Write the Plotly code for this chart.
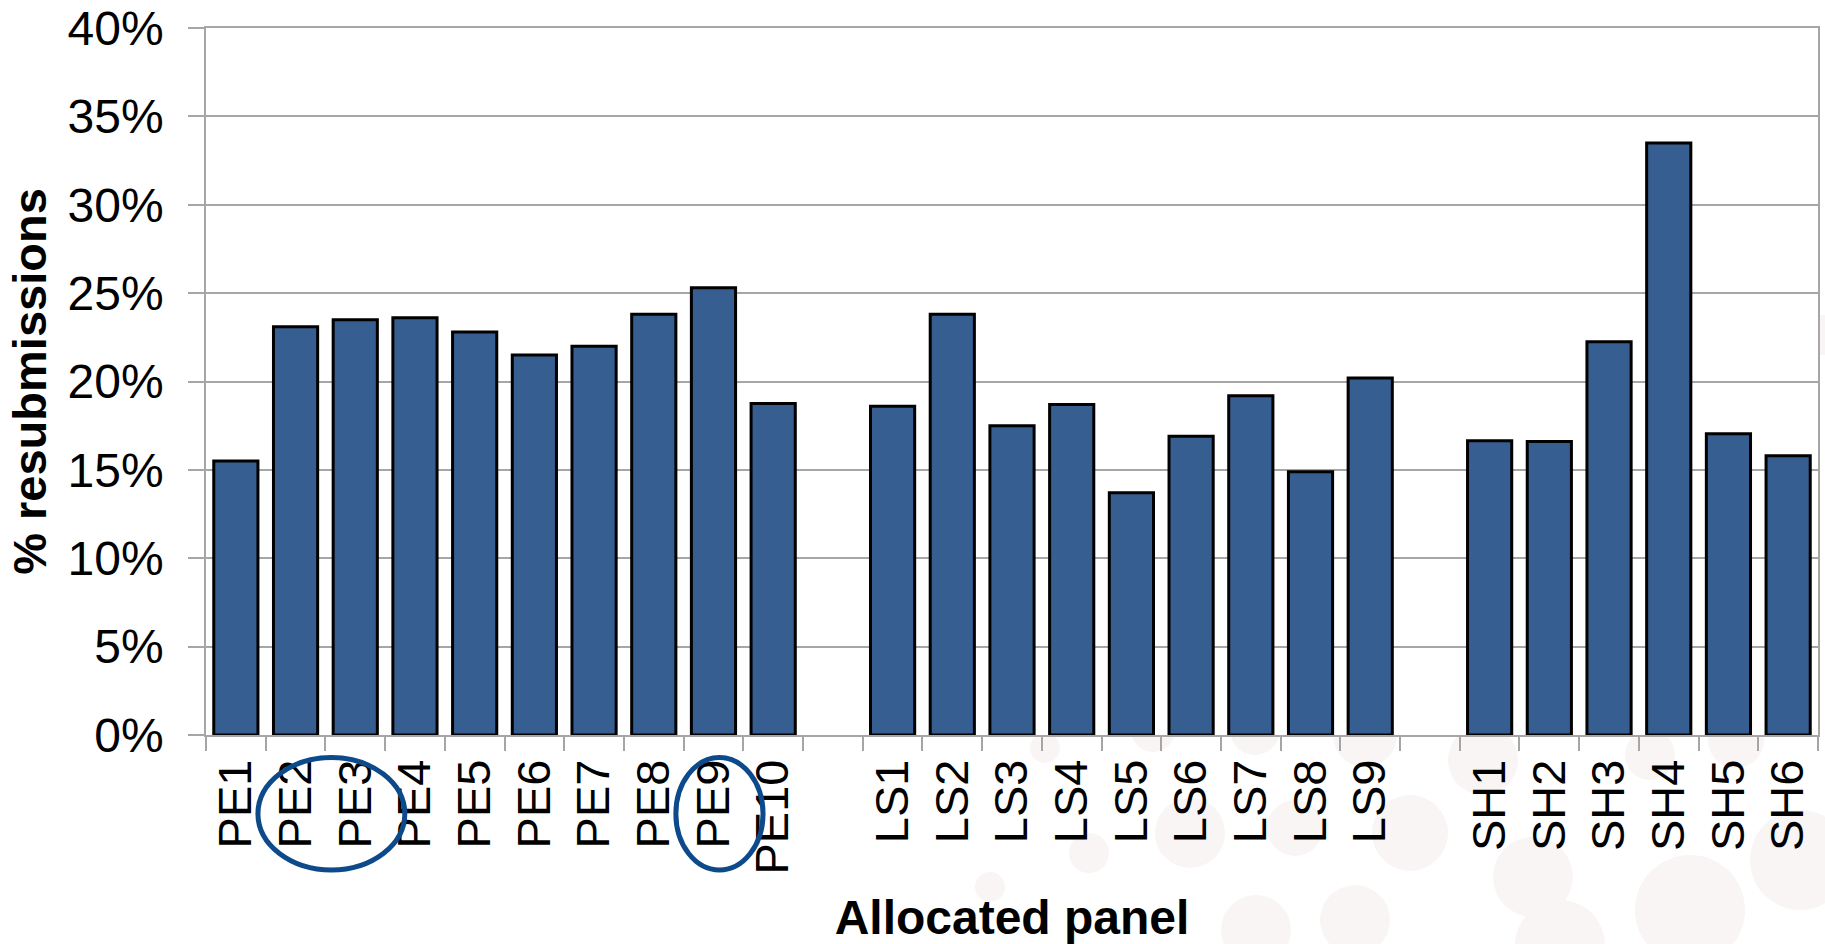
import plotly.graph_objects as go

# Resubmission rate (%) by allocated panel, grouped by domain
pe_panels = ["PE1", "PE2", "PE3", "PE4", "PE5", "PE6", "PE7", "PE8", "PE9", "PE10"]
pe_values = [15.5, 23.1, 23.5, 23.6, 22.8, 21.5, 22.0, 23.8, 25.3, 18.75]

ls_panels = ["LS1", "LS2", "LS3", "LS4", "LS5", "LS6", "LS7", "LS8", "LS9"]
ls_values = [18.6, 23.8, 17.5, 18.7, 13.7, 16.9, 19.2, 14.9, 20.2]

sh_panels = ["SH1", "SH2", "SH3", "SH4", "SH5", "SH6"]
sh_values = [16.65, 16.6, 22.25, 33.5, 17.05, 15.8]

# Panels singled out with a hand-drawn ring under their labels
ringed_groups = [["PE2", "PE3"], ["PE9"]]

y_ticks = [0, 5, 10, 15, 20, 25, 30, 35, 40]

# Empty slots separate the three domains on the category axis
gap1, gap2 = " ", "  "
category_order = pe_panels + [gap1] + ls_panels + [gap2] + sh_panels
panels = pe_panels + ls_panels + sh_panels
values = pe_values + ls_values + sh_values

BAR_FILL = "#365e91"
RING = "#0d4a8b"
GRID = "#a6a6a6"
FONT = "Liberation Sans, Arial, sans-serif"

fig = go.Figure(
    go.Bar(
        x=panels,
        y=values,
        marker=dict(color=BAR_FILL, line=dict(color="black", width=3)),
        hoverinfo="x+y",
    )
)

n_slots = len(category_order)
shapes = []

# faint decorative dots of the slide backdrop (pixel centre x, y and radius)
W, H = 1825, 944
PLOT_L, PLOT_R, PLOT_T, PLOT_B = 206, 1818, 28, 735
backdrop_dots = [
    (990, 887, 15), (1045, 748, 15), (1089, 853, 20), (1153, 730, 22),
    (1190, 833, 35), (1255, 730, 25), (1295, 828, 28), (1365, 735, 32),
    (1410, 833, 38), (1483, 760, 35), (1533, 877, 40), (1256, 930, 35),
    (1355, 920, 35), (1560, 945, 45), (1650, 755, 25), (1690, 910, 55),
    (1736, 740, 28), (1800, 860, 50), (1822, 335, 20),
]
for cx, cy, r in backdrop_dots:
    shapes.append(dict(
        type="circle", xref="paper", yref="paper", layer="below",
        x0=(cx - r - PLOT_L) / (PLOT_R - PLOT_L), x1=(cx + r - PLOT_L) / (PLOT_R - PLOT_L),
        y0=(PLOT_B - (cy + r)) / (PLOT_B - PLOT_T), y1=(PLOT_B - (cy - r)) / (PLOT_B - PLOT_T),
        fillcolor="#f9f5f5", line=dict(width=0),
    ))
# keep the plotting area itself clean white
shapes.append(dict(
    type="rect", xref="paper", yref="paper", layer="below",
    x0=0, x1=1, y0=0, y1=1, fillcolor="white", line=dict(width=0),
))

# rings around selected tick labels
for group in ringed_groups:
    idx = [category_order.index(p) for p in group]
    shapes.append(dict(
        type="circle", xref="x domain", yref="y domain", layer="above",
        x0=(min(idx) + 0.5 - 0.63) / n_slots,
        x1=(max(idx) + 0.5 + 0.83) / n_slots,
        y0=-0.191, y1=-0.032,
        line=dict(color=RING, width=5),
    ))

fig.update_layout(
    width=W,
    height=H,
    margin=dict(l=PLOT_L, r=W - PLOT_R, t=PLOT_T, b=H - PLOT_B, autoexpand=False),
    paper_bgcolor="white",
    plot_bgcolor="white",
    showlegend=False,
    bargap=0.26,
    font=dict(family=FONT, color="black", size=46),
    shapes=shapes,
)

fig.update_xaxes(
    type="category",
    categoryorder="array",
    categoryarray=category_order,
    range=[-0.5, n_slots - 0.5],
    tickmode="array",
    tickvals=category_order,
    ticktext=category_order,
    tickson="boundaries",
    ticks="outside",
    ticklen=14,
    tickwidth=1.5,
    tickcolor=GRID,
    tickangle=-90,
    tickfont=dict(size=47, family=FONT, color="black"),
    ticklabelstandoff=4,
    showline=True,
    linecolor=GRID,
    linewidth=1.5,
    mirror=True,
    showgrid=False,
    automargin=False,
    title=dict(text="<b>Allocated panel</b>", font=dict(size=48, family=FONT, color="black"), standoff=30),
)

fig.update_yaxes(
    range=[0, 40],
    tickmode="array",
    tickvals=y_ticks,
    ticktext=[f"{v}%" for v in y_ticks],
    ticks="outside",
    ticklen=16,
    tickwidth=1.5,
    tickcolor=GRID,
    tickfont=dict(size=48, family=FONT, color="black"),
    ticklabelstandoff=15,
    showline=True,
    linecolor=GRID,
    linewidth=1.5,
    mirror=True,
    showgrid=True,
    gridcolor=GRID,
    gridwidth=1.5,
    zeroline=False,
    automargin=False,
    title=dict(text="<b>% resubmissions</b>", font=dict(size=47, family=FONT, color="black"), standoff=6),
)

fig.write_html("out.html")
